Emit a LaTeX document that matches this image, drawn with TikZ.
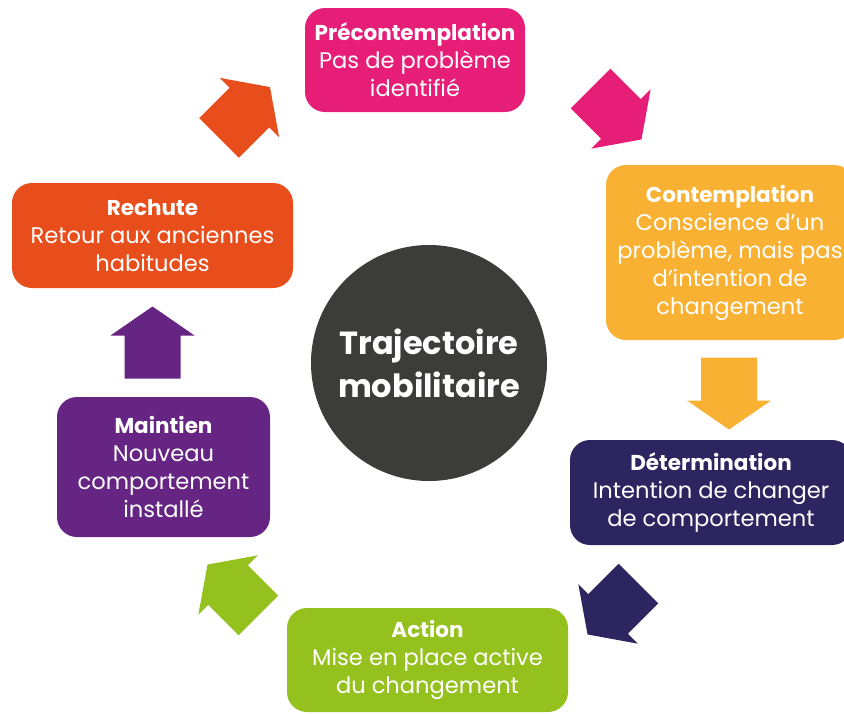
\documentclass[tikz,border=0pt]{standalone}
\usepackage{fontspec}
\setmainfont{Poppins}
\definecolor{prepink}{HTML}{E61E78}
\definecolor{conorange}{HTML}{F8B133}
\definecolor{detnavy}{HTML}{2C2560}
\definecolor{actgreen}{HTML}{95C11F}
\definecolor{mainpurple}{HTML}{662483}
\definecolor{rechred}{HTML}{E84E1C}
\definecolor{trajgrey}{HTML}{3C3C3B}
\newcommand{\stagehead}[1]{{\fontsize{21.5}{28}\selectfont\bfseries #1}}
\tikzset{
  stage/.style={rounded corners=20pt, text=white, align=center, inner sep=0pt,
    font=\fontsize{22.6}{28}\selectfont},
  blockarrow/.pic={\fill (-36,-28) -- (7,-28) -- (7,-42) -- (36,0) -- (7,42) -- (7,28) -- (-36,28) -- cycle;}
}

\begin{document}
\begin{tikzpicture}[x=1pt, y=-1pt]
\clip (0,0) rectangle (844,713);

% the six stages
\node[stage, fill=prepink, minimum width=220pt, minimum height=104pt] (pre) at (415,60)
  {\stagehead{Précontemplation}\\Pas de problème\\identifié};
\node[stage, fill=conorange, minimum width=248pt, minimum height=175pt] (con) at (730,252.5)
  {\stagehead{Contemplation}\\Conscience d’un\\problème, mais pas\\d’intention de\\changement};
\node[stage, fill=detnavy, minimum width=282pt, minimum height=105pt] (det) at (711,492.5)
  {\stagehead{Détermination}\\Intention de changer\\de comportement};
\node[stage, fill=actgreen, minimum width=281pt, minimum height=104pt] (act) at (427.5,660)
  {\stagehead{Action}\\Mise en place active\\du changement};
\node[stage, fill=mainpurple, minimum width=213pt, minimum height=140pt] (main) at (163.5,467)
  {\stagehead{Maintien}\\Nouveau\\comportement\\installé};
\node[stage, fill=rechred, minimum width=281pt, minimum height=105pt] (rech) at (152.5,235.5)
  {\stagehead{Rechute}\\Retour aux anciennes\\habitudes};

% centre
\node[circle, fill=trajgrey, text=white, align=center, minimum size=236pt,
  font=\fontsize{32}{43}\selectfont\bfseries] (traj) at (429,363) {Trajectoire\\mobilitaire};

% arrows between stages
\pic[fill=prepink, rotate=-45] at (616,114) {blockarrow};
\pic[fill=conorange, rotate=-90] at (729,393.5) {blockarrow};
\pic[fill=detnavy, rotate=-135] at (613,609) {blockarrow};
\pic[fill=actgreen, rotate=135] at (233,590) {blockarrow};
\pic[fill=mainpurple, rotate=90] at (152.5,342.5) {blockarrow};
\pic[fill=rechred, rotate=45] at (244.5,112.5) {blockarrow};
\end{tikzpicture}
\end{document}
